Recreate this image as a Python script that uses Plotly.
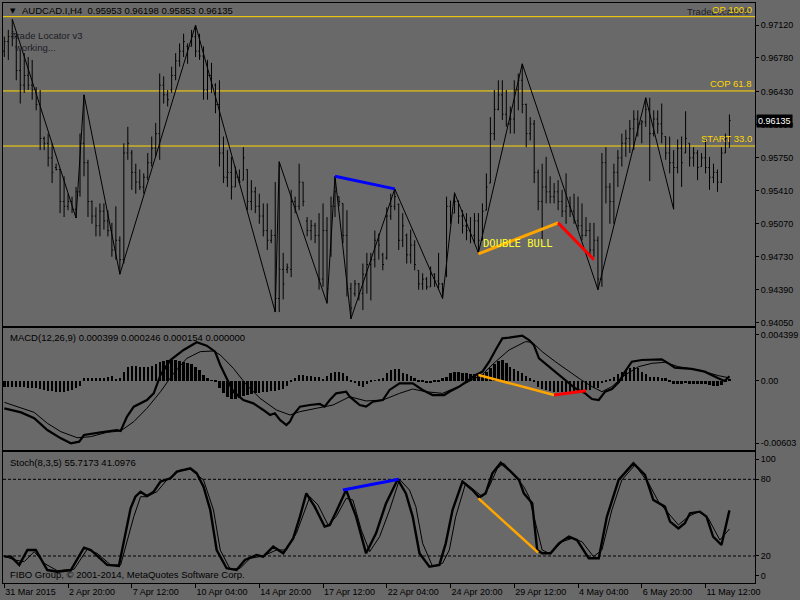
import plotly.graph_objects as go

BG = "#696969"
FONT = "Liberation Sans, Arial, sans-serif"
FIB_COLOR = "#FFD700"

# ── main chart: AUDCAD.I H4 bars, index 0 = 31 Mar 2015 ─────────────────────
bar_open = [
    0.9685, 0.9695, 0.9700, 0.9700, 0.9665, 0.9650, 0.9660, 0.9650, 0.9645, 0.9630,
    0.9595, 0.9590, 0.9575, 0.9565, 0.9563, 0.9530, 0.9525, 0.9530, 0.9522, 0.9540,
    0.9590, 0.9570, 0.9530, 0.9515, 0.9505, 0.9520, 0.9510, 0.9500, 0.9480, 0.9490,
    0.9470, 0.9580, 0.9580, 0.9560, 0.9550, 0.9545, 0.9555, 0.9570, 0.9585, 0.9600,
    0.9650, 0.9640, 0.9645, 0.9660, 0.9675, 0.9685, 0.9690, 0.9690, 0.9700, 0.9685,
    0.9680, 0.9645, 0.9660, 0.9650, 0.9630, 0.9580, 0.9555, 0.9560, 0.9545, 0.9555,
    0.9552, 0.9563, 0.9530, 0.9540, 0.9525, 0.9515, 0.9500, 0.9490, 0.9495, 0.9430,
    0.9460, 0.9460, 0.9460, 0.9530, 0.9525, 0.9550, 0.9510, 0.9500, 0.9505, 0.9495,
    0.9450, 0.9500, 0.9480, 0.9525, 0.9535, 0.9528, 0.9495, 0.9440, 0.9435, 0.9445,
    0.9435, 0.9455, 0.9465, 0.9470, 0.9490, 0.9475, 0.9472, 0.9515, 0.9525, 0.9527,
    0.9490, 0.9495, 0.9475, 0.9485, 0.9459, 0.9445, 0.9450, 0.9442, 0.9455, 0.9448,
    0.9445, 0.9455, 0.9525, 0.9518, 0.9530, 0.9515, 0.9505, 0.9500, 0.9495, 0.9510,
    0.9490, 0.9521, 0.9549, 0.9600, 0.9625, 0.9640, 0.9620, 0.9610, 0.9615, 0.9645,
    0.9655, 0.9630, 0.9600, 0.9610, 0.9560, 0.9530, 0.9545, 0.9540, 0.9535, 0.9540,
    0.9530, 0.9520, 0.9525, 0.9520, 0.9510, 0.9505, 0.9495, 0.9500, 0.9480, 0.9490,
    0.9450, 0.9570, 0.9545, 0.9530, 0.9560, 0.9575, 0.9590, 0.9595, 0.9605, 0.9615,
    0.9610, 0.9612, 0.9625, 0.9600, 0.9615, 0.9610, 0.9597, 0.9580, 0.9570, 0.9565,
    0.9585, 0.9580, 0.9590, 0.9575, 0.9580, 0.9566, 0.9575, 0.9565, 0.9555, 0.9560,
    0.9550, 0.9580, 0.95953,
]
bar_high = [
    0.9700, 0.9707, 0.9718, 0.9703, 0.9686, 0.9683, 0.9679, 0.9676, 0.9648, 0.9645,
    0.9597, 0.9600, 0.9590, 0.9569, 0.9563, 0.9556, 0.9538, 0.9535, 0.9545, 0.9600,
    0.9640, 0.9573, 0.9531, 0.9524, 0.9528, 0.9528, 0.9521, 0.9508, 0.9525, 0.9494,
    0.9590, 0.9607, 0.9583, 0.9569, 0.9563, 0.9559, 0.9580, 0.9597, 0.9611, 0.9662,
    0.9659, 0.9645, 0.9669, 0.9683, 0.9693, 0.9703, 0.9693, 0.9707, 0.9712, 0.9703,
    0.9690, 0.9676, 0.9673, 0.9652, 0.9655, 0.9597, 0.9583, 0.9576, 0.9566, 0.9563,
    0.9586, 0.9563, 0.9552, 0.9545, 0.9538, 0.9528, 0.9528, 0.9501, 0.9550, 0.9571,
    0.9477, 0.9466, 0.9542, 0.9535, 0.9569, 0.9550, 0.9514, 0.9511, 0.9508, 0.9518,
    0.9528, 0.9514, 0.9535, 0.9556, 0.9535, 0.9528, 0.9521, 0.9446, 0.9449, 0.9446,
    0.9466, 0.9477, 0.9477, 0.9500, 0.9497, 0.9477, 0.9524, 0.9538, 0.9543, 0.9528,
    0.9518, 0.9497, 0.9501, 0.9490, 0.9459, 0.9456, 0.9452, 0.9463, 0.9456, 0.9477,
    0.9446, 0.9535, 0.9531, 0.9539, 0.9531, 0.9521, 0.9518, 0.9514, 0.9518, 0.9518,
    0.9528, 0.9559, 0.9617, 0.9645, 0.9655, 0.9655, 0.9645, 0.9628, 0.9655, 0.9662,
    0.9672, 0.9631, 0.9617, 0.9614, 0.9563, 0.9569, 0.9576, 0.9556, 0.9549, 0.9552,
    0.9542, 0.9559, 0.9535, 0.9538, 0.9535, 0.9528, 0.9514, 0.9508, 0.9508, 0.9494,
    0.9580, 0.9586, 0.9549, 0.9569, 0.9583, 0.9600, 0.9604, 0.9614, 0.9624, 0.9624,
    0.9614, 0.9637, 0.9637, 0.9624, 0.9624, 0.9631, 0.9597, 0.9597, 0.9583, 0.9594,
    0.9597, 0.9623, 0.9590, 0.9586, 0.9583, 0.9580, 0.9594, 0.9576, 0.9569, 0.9563,
    0.9586, 0.9600, 0.96198,
]
bar_low = [
    0.9679, 0.9676, 0.9690, 0.9655, 0.9631, 0.9642, 0.9645, 0.9635, 0.9624, 0.9583,
    0.9583, 0.9566, 0.9549, 0.9562, 0.9518, 0.9514, 0.9521, 0.9518, 0.9513, 0.9535,
    0.9556, 0.9514, 0.9507, 0.9494, 0.9494, 0.9501, 0.9494, 0.9473, 0.9470, 0.9455,
    0.9466, 0.9573, 0.9542, 0.9538, 0.9542, 0.9538, 0.9552, 0.9566, 0.9576, 0.9573,
    0.9631, 0.9628, 0.9642, 0.9655, 0.9669, 0.9679, 0.9672, 0.9690, 0.9679, 0.9676,
    0.9635, 0.9635, 0.9642, 0.9621, 0.9566, 0.9549, 0.9545, 0.9532, 0.9545, 0.9549,
    0.9552, 0.9521, 0.9521, 0.9518, 0.9507, 0.9494, 0.9480, 0.9487, 0.9416, 0.9416,
    0.9429, 0.9456, 0.9452, 0.9518, 0.9521, 0.9525, 0.9494, 0.9490, 0.9487, 0.9439,
    0.9442, 0.9425, 0.9473, 0.9514, 0.9525, 0.9487, 0.9432, 0.9409, 0.9432, 0.9428,
    0.9418, 0.9435, 0.9428, 0.9462, 0.9470, 0.9459, 0.9470, 0.9511, 0.9521, 0.9480,
    0.9483, 0.9466, 0.9466, 0.9459, 0.9439, 0.9439, 0.9439, 0.9442, 0.9442, 0.9439,
    0.9430, 0.9452, 0.9507, 0.9518, 0.9507, 0.9497, 0.9490, 0.9487, 0.9487, 0.9477,
    0.9490, 0.9521, 0.9549, 0.9593, 0.9624, 0.9614, 0.9607, 0.9600, 0.9600, 0.9624,
    0.9621, 0.9586, 0.9593, 0.9549, 0.9521, 0.9490, 0.9528, 0.9528, 0.9528, 0.9521,
    0.9514, 0.9507, 0.9514, 0.9507, 0.9501, 0.9490, 0.9494, 0.9473, 0.9473, 0.9439,
    0.9442, 0.9528, 0.9507, 0.9507, 0.9545, 0.9566, 0.9576, 0.9580, 0.9583, 0.9597,
    0.9590, 0.9607, 0.9551, 0.9597, 0.9600, 0.9590, 0.9573, 0.9559, 0.9522, 0.9559,
    0.9545, 0.9580, 0.9566, 0.9566, 0.9552, 0.9566, 0.9559, 0.9542, 0.9549, 0.9540,
    0.9549, 0.9580, 0.95853,
]
bar_close = [
    0.9695, 0.9700, 0.9705, 0.9665, 0.9650, 0.9660, 0.9650, 0.9645, 0.9630, 0.9595,
    0.9590, 0.9575, 0.9560, 0.9563, 0.9530, 0.9525, 0.9530, 0.9522, 0.9540, 0.9590,
    0.9570, 0.9530, 0.9515, 0.9505, 0.9520, 0.9510, 0.9500, 0.9480, 0.9490, 0.9470,
    0.9580, 0.9590, 0.9560, 0.9550, 0.9545, 0.9555, 0.9570, 0.9585, 0.9600, 0.9650,
    0.9640, 0.9635, 0.9660, 0.9675, 0.9685, 0.9695, 0.9688, 0.9700, 0.9685, 0.9680,
    0.9645, 0.9660, 0.9650, 0.9630, 0.9580, 0.9555, 0.9560, 0.9545, 0.9555, 0.9550,
    0.9575, 0.9530, 0.9540, 0.9525, 0.9515, 0.9500, 0.9490, 0.9495, 0.9430, 0.9460,
    0.9445, 0.9462, 0.9530, 0.9525, 0.9550, 0.9530, 0.9500, 0.9505, 0.9495, 0.9450,
    0.9500, 0.9440, 0.9525, 0.9540, 0.9530, 0.9495, 0.9440, 0.9420, 0.9445, 0.9435,
    0.9455, 0.9465, 0.9470, 0.9490, 0.9485, 0.9465, 0.9515, 0.9525, 0.9535, 0.9490,
    0.9505, 0.9475, 0.9485, 0.9465, 0.9445, 0.9450, 0.9442, 0.9455, 0.9448, 0.9445,
    0.9440, 0.9525, 0.9515, 0.9530, 0.9515, 0.9505, 0.9500, 0.9495, 0.9510, 0.9490,
    0.9520, 0.9545, 0.9600, 0.9625, 0.9640, 0.9620, 0.9610, 0.9615, 0.9645, 0.9655,
    0.9630, 0.9600, 0.9610, 0.9560, 0.9530, 0.9545, 0.9540, 0.9535, 0.9540, 0.9530,
    0.9520, 0.9525, 0.9520, 0.9510, 0.9505, 0.9495, 0.9500, 0.9480, 0.9490, 0.9450,
    0.9570, 0.9545, 0.9530, 0.9560, 0.9575, 0.9590, 0.9595, 0.9605, 0.9615, 0.9610,
    0.9612, 0.9625, 0.9600, 0.9615, 0.9610, 0.9600, 0.9580, 0.9570, 0.9565, 0.9585,
    0.9570, 0.9595, 0.9575, 0.9580, 0.9565, 0.9575, 0.9565, 0.9555, 0.9560, 0.9550,
    0.9580, 0.9595, 0.96135,
]
bar_idx = list(range(len(bar_close)))

# zigzag swing points (bar index, price)
zigzag_idx = [2, 18, 20, 29, 48, 68, 69, 81, 83, 87, 98, 110, 113, 119, 130, 149, 161, 168]
zigzag_price = [0.9718, 0.9513, 0.9640, 0.9455, 0.9712, 0.9416, 0.9571, 0.9425, 0.9556,
                0.9409, 0.9543, 0.9430, 0.9539, 0.9477, 0.9672, 0.9439, 0.9637, 0.9522]

# divergence marks on price
div_blue_idx, div_blue_price = [83, 98], [0.9556, 0.9543]
div_orange_idx, div_orange_price = [119, 139], [0.9476, 0.9508]
div_red_idx, div_red_price = [139, 148], [0.9508, 0.9470]

fib_levels = [0.97206, 0.96440, 0.95872]
fib_names = ["OP 100.0", "COP 61.8", "START 33.0"]

price_ticks = [0.97120, 0.96780, 0.96430, 0.96090, 0.95750, 0.95410,
               0.95070, 0.94730, 0.94390, 0.94050]
last_price = 0.96135

# ── MACD(12,26,9) ─────────────────────────────────────────────────────────────
macd_hist = [
    -0.00059, -0.00059, -0.00059, -0.00059, -0.00059, -0.00059, -0.00069, -0.00069, -0.00075, -0.00082,
    -0.00091, -0.00098, -0.00101, -0.00108, -0.00108, -0.00108, -0.00101, -0.00091, -0.00069, -0.00050,
    0.00021, 0.00021, 0.00027, 0.00027, 0.00027, 0.00027, 0.00034, 0.00047, 0.00014, 0.00021,
    0.00085, 0.00133, 0.00143, 0.00143, 0.00133, 0.00133, 0.00133, 0.00143, 0.00156, 0.00175,
    0.00188, 0.00197, 0.00197, 0.00197, 0.00188, 0.00181, 0.00165, 0.00156, 0.00133, 0.00101,
    0.00053, 0.00021, 0.00005, -0.00011, -0.00075, -0.00124, -0.00156, -0.00178, -0.00178, -0.00165,
    -0.00146, -0.00140, -0.00133, -0.00124, -0.00124, -0.00108, -0.00108, -0.00101, -0.00101, -0.00091,
    -0.00082, -0.00050, -0.00018, 0.00027, 0.00053, 0.00053, 0.00047, 0.00047, 0.00037, 0.00037,
    0.00014, 0.00047, 0.00069, 0.00079, 0.00079, 0.00069, 0.00047, -0.00005, -0.00027, -0.00050,
    -0.00059, -0.00037, -0.00011, 0.00005, 0.00014, 0.00027, 0.00069, 0.00101, 0.00108, 0.00108,
    0.00069, 0.00059, 0.00047, 0.00027, -0.00005, -0.00018, -0.00027, -0.00027, -0.00018, -0.00005,
    0.00021, 0.00037, 0.00069, 0.00079, 0.00079, 0.00069, 0.00069, 0.00059, 0.00059, 0.00053,
    0.00059, 0.00085, 0.00124, 0.00156, 0.00188, 0.00197, 0.00165, 0.00133, 0.00111, 0.00091,
    0.00069, 0.00047, 0.00021, -0.00018, -0.00059, -0.00082, -0.00091, -0.00101, -0.00108, -0.00108,
    -0.00108, -0.00108, -0.00108, -0.00101, -0.00101, -0.00101, -0.00091, -0.00091, -0.00075, -0.00075,
    -0.00027, -0.00005, 0.00014, 0.00037, 0.00059, 0.00085, 0.00111, 0.00124, 0.00133, 0.00117,
    0.00085, 0.00059, 0.00037, 0.00037, 0.00037, 0.00027, 0.00021, -0.00018, -0.00037, -0.00037,
    -0.00037, -0.00027, -0.00037, -0.00037, -0.00037, -0.00037, -0.00037, -0.00043, -0.00050, -0.00050,
    -0.00043, -0.00018, 0.00015,
]
macd_x = [0, 4.2, 7.5, 10.8, 14.2, 16.7, 18.8, 20, 24.2, 28.3,
          29.2, 30.8, 32.5, 35.8, 37.5, 39.2, 41.7, 45, 48.3, 50.8,
          52.9, 54.2, 55.8, 57.5, 60, 62.5, 65, 66.7, 67.9, 69.2,
          70.8, 71.7, 72.5, 74.2, 76.7, 79.2, 80.4, 81.7, 83.3, 85.8,
          86.7, 89.2, 90.8, 92.5, 95, 96.7, 99.2, 102.5, 105, 107.5,
          110.4, 111.7, 114.2, 118.3, 120, 121.7, 123.3, 125, 126.7, 128.8,
          130, 131.7, 132.9, 134.2, 136.7, 139.2, 140.8, 143.3, 145.8, 147.5,
          149.2, 150.8, 152.5, 154.2, 155.8, 157.5, 160, 162.5, 165, 166.7,
          168.3, 172.5, 175.8, 179.2, 180.8, 182]
macd_main = [-0.00268, -0.00307, -0.00364, -0.00477, -0.00557, -0.00605, -0.00589, -0.00525, -0.00499, -0.00477,
             -0.00486, -0.00348, -0.00252, -0.00188, -0.00124, 0.00053, 0.00197, 0.00294, 0.00368, 0.00335,
             0.00278, 0.00149, 0.00021, -0.00108, -0.00188, -0.00220, -0.00284, -0.00332, -0.00316, -0.00380,
             -0.00429, -0.00396, -0.00332, -0.00252, -0.00236, -0.00226, -0.00252, -0.00188, -0.00124, -0.00108,
             -0.00156, -0.00236, -0.00252, -0.00204, -0.00188, -0.00091, -0.00027, -0.00027, -0.00091, -0.00140,
             -0.00140, -0.00108, -0.00059, 0.00053, 0.00085, 0.00181, 0.00294, 0.00406, 0.00412, 0.00422,
             0.00432, 0.00390, 0.00342, 0.00213, 0.00133, 0.00053, 0.00005, -0.00075, -0.00124, -0.00178,
             -0.00188, -0.00108, -0.00082, -0.00018, 0.00085, 0.00181, 0.00197, 0.00197, 0.00204, 0.00165,
             0.00124, 0.00111, 0.00085, 0.00021, -0.00005, 0.00040]
signal_x = [0, 4.2, 7.5, 10.8, 14.2, 18.3, 21.7, 25.8, 29.2, 32.5,
            35.8, 39.2, 42.5, 45.8, 49.2, 52.5, 54.2, 57.5, 60.8, 64.2,
            68.3, 71.7, 74.2, 78.3, 82.5, 86.7, 90.8, 95, 99.2, 102.5,
            105.8, 110, 115.8, 120, 123.3, 126.7, 130.8, 132.5, 135, 138.3,
            141.7, 144.6, 147.5, 150, 152.5, 155.8, 159.2, 162.5, 165.8, 169.2,
            174.2, 179.2, 182]
macd_signal = [-0.00210, -0.00268, -0.00307, -0.00412, -0.00493, -0.00551, -0.00541, -0.00499, -0.00486, -0.00396,
               -0.00268, -0.00108, 0.00069, 0.00213, 0.00278, 0.00284, 0.00246, 0.00117, -0.00043, -0.00172,
               -0.00284, -0.00332, -0.00300, -0.00268, -0.00236, -0.00156, -0.00197, -0.00188, -0.00124, -0.00082,
               -0.00108, -0.00124, -0.00027, 0.00059, 0.00181, 0.00294, 0.00374, 0.00368, 0.00278, 0.00181,
               0.00085, 0.00011, -0.00059, -0.00108, -0.00059, 0.00053, 0.00133, 0.00165, 0.00175, 0.00133,
               0.00101, 0.00047, 0.00025]
macd_orange_idx, macd_orange_val = [119, 138], [0.00053, -0.00140]
macd_red_idx, macd_red_val = [138, 146], [-0.00140, -0.00098]
macd_ticks = [0.004399, 0.0, -0.00603]
macd_tick_text = ["0.004399", "0.00", "-0.00603"]

# ── Stoch(8,3,5) ──────────────────────────────────────────────────────────────
stoch_x = [0, 1.7, 3.75, 5.8, 7.9, 10.8, 13.3, 16.7, 20, 21.7,
           25.8, 28.75, 31.7, 32.9, 34.2, 35.8, 37.5, 39.2, 41.7, 43.3,
           46.7, 48.3, 50, 51.7, 53.3, 55.8, 58.3, 60.4, 63.3, 65,
           67.5, 70, 72.5, 74.2, 75.8, 77.9, 80.4, 81.7, 83.3, 85.8,
           88.3, 90.8, 93.3, 95.8, 98.75, 100.8, 102.5, 104.2, 106.7, 109.2,
           110.8, 112.5, 115, 117.5, 119.2, 120.8, 122.5, 124.6, 126.7, 129.2,
           130.4, 132.5, 133.75, 135, 137.1, 139.2, 141.7, 143.75, 146.7, 149.2,
           151.25, 154.2, 157.9, 160.8, 162.9, 165.8, 167.1, 169.2, 170.8, 172.1,
           174.6, 176.25, 177.9, 180, 182]
stoch_main = [19.5, 19.5, 13.0, 24.7, 24.7, 9.0, 7.7, 9.0, 26.5, 24.7,
              13.0, 12.2, 57.3, 66.4, 70.3, 66.9, 70.3, 78.2, 80.8, 86.0,
              88.6, 84.7, 74.2, 56.0, 24.7, 10.4, 9.0, 16.9, 20.8, 19.5,
              27.3, 22.1, 33.8, 50.8, 69.0, 58.6, 43.0, 44.3, 54.7, 71.6,
              50.8, 22.1, 37.7, 61.2, 80.0, 69.0, 50.8, 22.1, 11.7, 13.0,
              29.9, 56.0, 78.2, 71.6, 65.9, 69.0, 84.7, 93.0, 87.3, 79.5,
              69.0, 61.2, 24.7, 22.1, 22.1, 29.9, 35.1, 32.5, 18.2, 18.2,
              50.8, 79.5, 92.5, 83.4, 63.8, 58.6, 46.9, 41.6, 45.6, 53.4,
              54.7, 50.8, 35.1, 28.6, 55.7]
stoch_sig_x = [0, 2.5, 5, 7.5, 10, 13.3, 17.5, 20.8, 23.3, 26.7,
               29.2, 32.5, 34.2, 35.8, 38.3, 40.8, 44.2, 46.7, 50, 52.5,
               54.2, 56.7, 59.2, 61.7, 65, 68.3, 70.8, 73.3, 76.7, 78.75,
               81.25, 83.3, 85.8, 87.5, 89.6, 91.7, 94.2, 96.7, 99.2, 101.7,
               103.3, 105, 107.5, 110, 111.7, 113.3, 115.8, 118.3, 120, 121.7,
               123.75, 125.4, 127.9, 130.4, 131.7, 133.3, 135, 137.1, 140, 142.5,
               145, 147.9, 150, 152.5, 155, 158.3, 161.7, 164.2, 166.7, 169.2,
               171.7, 174.2, 176.7, 179.6, 182]
stoch_signal = [20.0, 16.9, 15.6, 23.4, 14.3, 8.5, 9.6, 25.2, 22.1, 13.0,
                13.0, 50.8, 66.4, 66.4, 70.3, 79.5, 87.3, 87.8, 79.5, 56.0,
                24.7, 9.6, 10.4, 18.2, 20.0, 24.7, 24.7, 37.7, 66.4, 59.9,
                44.3, 50.8, 65.1, 63.8, 40.3, 23.4, 35.1, 56.0, 80.0, 71.6,
                58.6, 29.9, 11.7, 14.3, 24.7, 50.8, 77.0, 70.3, 66.4, 74.2,
                88.6, 92.5, 83.4, 74.2, 66.4, 45.6, 24.7, 21.6, 31.2, 33.8,
                31.2, 19.5, 24.7, 56.0, 79.5, 91.2, 77.0, 62.5, 53.4, 44.3,
                50.8, 54.7, 49.5, 32.5, 41.1]
stoch_blue_idx, stoch_blue_val = [85, 99], [71.6, 80.0]
stoch_orange_idx, stoch_orange_val = [119, 134], [65.1, 22.6]
stoch_levels = [80, 20]
stoch_ticks = [95.7, 80, 20, 4.6]
stoch_tick_text = ["100", "80", "20", "0"]

# ── time axis ─────────────────────────────────────────────────────────────────
date_idx = [0, 16, 32, 48, 64, 80, 96, 112, 128, 144, 160, 176]
date_labels = ["31 Mar 2015", "2 Apr 20:00", "7 Apr 12:00", "10 Apr 04:00",
               "14 Apr 20:00", "17 Apr 12:00", "22 Apr 04:00", "24 Apr 20:00",
               "29 Apr 12:00", "4 May 04:00", "6 May 20:00", "11 May 12:00"]


def seg(x, y, color, width, xa, ya):
    return go.Scatter(x=x, y=y, mode="lines", line=dict(color=color, width=width),
                      xaxis=xa, yaxis=ya, hoverinfo="skip", showlegend=False)


fig = go.Figure()

# price panel
fig.add_trace(go.Ohlc(
    x=bar_idx, open=bar_open, high=bar_high, low=bar_low, close=bar_close,
    increasing=dict(line=dict(color="black", width=1)),
    decreasing=dict(line=dict(color="black", width=1)),
    tickwidth=0.3, xaxis="x", yaxis="y", hoverinfo="skip", showlegend=False,
))
fig.add_trace(seg(zigzag_idx, zigzag_price, "black", 1, "x", "y"))
fig.add_trace(seg(div_blue_idx, div_blue_price, "#0000FF", 3, "x", "y"))
fig.add_trace(seg(div_orange_idx, div_orange_price, "#FFA500", 3, "x", "y"))
fig.add_trace(seg(div_red_idx, div_red_price, "#FF0000", 3, "x", "y"))

# MACD panel
fig.add_trace(go.Bar(x=bar_idx, y=macd_hist, width=0.6,
                     marker=dict(color="black", line=dict(width=0)),
                     xaxis="x2", yaxis="y2", hoverinfo="skip", showlegend=False))
fig.add_trace(seg(signal_x, macd_signal, "black", 1, "x2", "y2"))
fig.add_trace(seg(macd_x, macd_main, "black", 2.2, "x2", "y2"))
fig.add_trace(seg(macd_orange_idx, macd_orange_val, "#FFA500", 2.5, "x2", "y2"))
fig.add_trace(seg(macd_red_idx, macd_red_val, "#FF0000", 3, "x2", "y2"))

# Stoch panel
fig.add_trace(seg(stoch_sig_x, stoch_signal, "black", 1, "x3", "y3"))
fig.add_trace(seg(stoch_x, stoch_main, "black", 2.4, "x3", "y3"))
fig.add_trace(seg(stoch_blue_idx, stoch_blue_val, "#0000FF", 3, "x3", "y3"))
fig.add_trace(seg(stoch_orange_idx, stoch_orange_val, "#FFA500", 2.5, "x3", "y3"))

shapes = []
for lv in fib_levels:
    shapes.append(dict(type="line", xref="x domain", x0=0, x1=1, yref="y", y0=lv, y1=lv,
                       line=dict(color=FIB_COLOR, width=1), layer="below"))
for lv in stoch_levels:
    shapes.append(dict(type="line", xref="x3 domain", x0=0, x1=1, yref="y3", y0=lv, y1=lv,
                       line=dict(color="black", width=1, dash="3px,2px"), layer="below"))

txt = dict(family=FONT, size=9.5, color="black")


def note(text, x, y, font=txt, xanchor="left", **kw):
    return dict(text=text, x=x, y=y, xref=kw.pop("xref", "paper"), yref=kw.pop("yref", "paper"),
                xanchor=xanchor, yanchor=kw.pop("yanchor", "middle"), showarrow=False,
                font=font, **kw)


annotations = [
    note("▼", 0.0065, 0.9868, font=dict(family="DejaVu Sans", size=7, color="black")),
    note("AUDCAD.I,H4  0.95953 0.96198 0.95853 0.96135", 0.0225, 0.9868),
    note("Trade Locator v3", 0.0085, 0.9437, font=dict(family=FONT, size=9.5, color="#1c1c24")),
    note("working...", 0.0120, 0.9229, font=dict(family=FONT, size=9.5, color="#1c1c24")),
    note("TradeLocator©", 0.9070, 0.9850, font=dict(family=FONT, size=9.5, color="#1c1c24")),
    note("MACD(12,26,9) 0.000399 0.000246 0.000154 0.000000", 0.0070, 0.4229),
    note("Stoch(8,3,5) 55.7173 41.0976", 0.0070, 0.2081),
    note("FIBO Group, © 2001-2014, MetaQuotes Software Corp.", 0.0070, 0.0138),
    note("DOUBLE BULL", 119.6, 0.9487, xref="x", yref="y",
         font=dict(family="DejaVu Sans Mono", size=10.5, color="#FFFF33")),
    note(f"{last_price:.5f}", 1.0, last_price, yref="y", xshift=1, bgcolor="black",
         borderpad=1, font=dict(family=FONT, size=9, color="white")),
]
for lv, name in zip(fib_levels, fib_names):
    annotations.append(note(name, 0.9990, lv, yref="y", xanchor="right", yanchor="bottom",
                            font=dict(family=FONT, size=9.5, color=FIB_COLOR)))

frame = dict(showgrid=False, zeroline=False, showline=True, mirror=True,
             linecolor="black", linewidth=1, fixedrange=True)
tickfont = dict(family=FONT, size=9, color="black")

fig.update_layout(
    width=800, height=600,
    margin=dict(l=2, r=43, t=3, b=17),
    paper_bgcolor=BG, plot_bgcolor=BG,
    showlegend=False, hovermode=False, bargap=0,
    xaxis=dict(domain=[0, 1], range=[-0.33, 188.42], anchor="y", showticklabels=False,
               ticks="", rangeslider=dict(visible=False), **frame),
    xaxis2=dict(matches="x", anchor="y2", showticklabels=False, ticks="", **frame),
    xaxis3=dict(matches="x", anchor="y3", tickmode="array", tickvals=date_idx,
                ticktext=date_labels, ticks="outside", ticklen=4, tickcolor="black",
                ticklabelposition="outside right", tickfont=tickfont, **frame),
    yaxis=dict(domain=[0.4431, 1.0], range=[0.94016, 0.97347], anchor="x", side="right",
               tickmode="array", tickvals=price_ticks,
               ticktext=[f"{v:.5f}" for v in price_ticks],
               ticks="outside", ticklen=3, tickcolor="black", tickfont=tickfont, **frame),
    yaxis2=dict(domain=[0.2293, 0.4397], range=[-0.006693, 0.005056], anchor="x2", side="right",
                tickmode="array", tickvals=macd_ticks, ticktext=macd_tick_text,
                ticks="outside", ticklen=3, tickcolor="black", tickfont=tickfont, **frame),
    yaxis3=dict(domain=[0.0, 0.2259], range=[-1.13, 101.4], anchor="x3", side="right",
                tickmode="array", tickvals=stoch_ticks, ticktext=stoch_tick_text,
                ticks="outside", ticklen=3, tickcolor="black", tickfont=tickfont, **frame),
    shapes=shapes,
    annotations=annotations,
)

# the page body has a default 8px margin; drop it so the 800x600 figure fills the window
fig.write_html("out.html", config={"displayModeBar": False},
               post_script="document.body.style.margin='0';")
